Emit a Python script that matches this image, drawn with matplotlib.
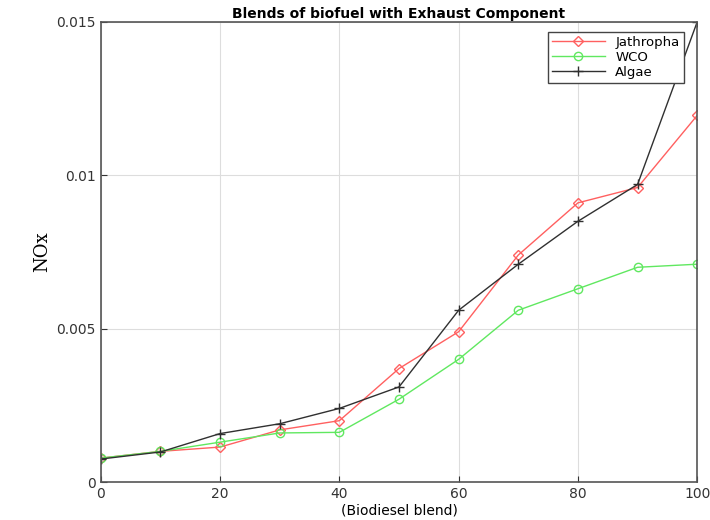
import matplotlib.pyplot as plt

blend = [0, 10, 20, 30, 40, 50, 60, 70, 80, 90, 100]
jathropha = [0.00078, 0.00100, 0.00114, 0.00170, 0.00200, 0.00370, 0.00490, 0.00740, 0.00910, 0.00960, 0.01195]
wco = [0.00078, 0.00100, 0.00130, 0.00160, 0.00162, 0.00270, 0.00400, 0.00560, 0.00630, 0.00700, 0.00710]
algae = [0.00075, 0.00098, 0.00158, 0.00190, 0.00240, 0.00310, 0.00560, 0.00710, 0.00850, 0.00970, 0.01500]

fig = plt.figure(figsize=(7.1, 5.2), dpi=100)
ax = fig.add_axes([0.142, 0.073, 0.840, 0.885])

ax.plot(blend, jathropha, color="#ff6060", marker="D", markersize=5, markerfacecolor="none", lw=1, label="Jathropha")
ax.plot(blend, wco, color="#60e860", marker="o", markersize=6, markerfacecolor="none", lw=1, label="WCO")
ax.plot(blend, algae, color="#303030", marker="+", markersize=7, lw=1, label="Algae")

ax.set_xlim(0, 100)
ax.set_ylim(0, 0.015)
ax.set_xticks([0, 20, 40, 60, 80, 100])
ax.set_yticks([0, 0.005, 0.01, 0.015])
ax.set_yticklabels(["0", "0.005", "0.01", "0.015"])
ax.tick_params(direction="in", labelsize=10, colors="#333333", length=4)
ax.grid(True, color="#dddddd", lw=0.8)
for s in ax.spines.values():
    s.set_color("#555555")
    s.set_linewidth(1.2)

ax.set_title("Blends of biofuel with Exhaust Component", fontsize=10, fontweight="bold", pad=3)
ax.set_xlabel("(Biodiesel blend)", fontsize=10, labelpad=2)
ax.set_ylabel("NOx", fontsize=13, family="DejaVu Serif")

leg = ax.legend(loc="upper right", bbox_to_anchor=(0.977, 0.978), fontsize=9.5, fancybox=False, framealpha=1,
                edgecolor="#444444", borderaxespad=0, handlelength=4, labelspacing=0.15, borderpad=0.3)

fig.savefig("out.png")
